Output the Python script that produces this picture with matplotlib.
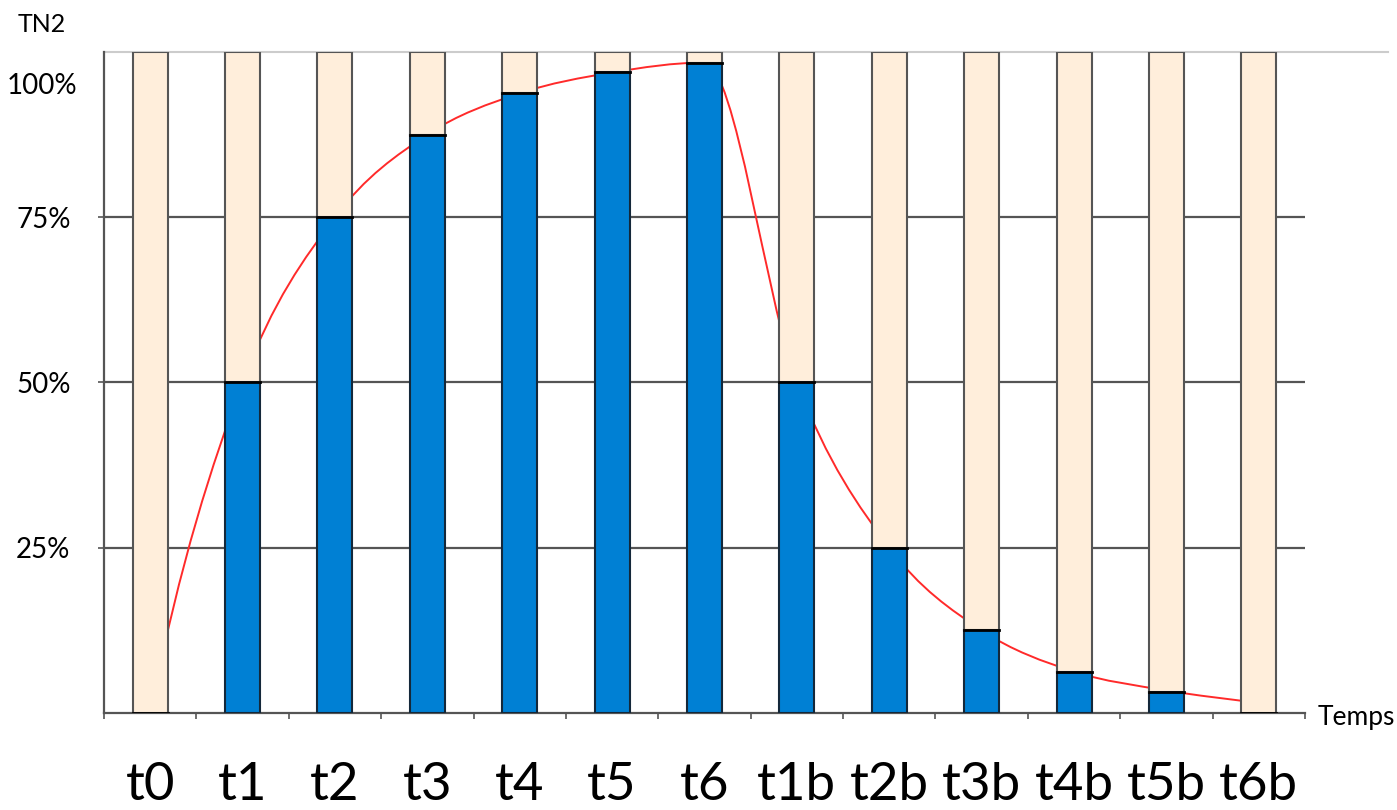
import matplotlib.pyplot as plt
from matplotlib.path import Path
from matplotlib.patches import PathPatch

plt.rcParams['font.family'] = ['Lato', 'DejaVu Sans']

labels = ["t0", "t1", "t2", "t3", "t4", "t5", "t6",
          "t1b", "t2b", "t3b", "t4b", "t5b", "t6b"]
bleu = [0, 50, 75, 87.5, 93.75, 96.9, 98.4, 50, 25, 12.5, 6.25, 3.1, 0]
courbe = [0, 50, 75, 87.5, 93.75, 96.9, 98.4, 50, 25, 12.5, 6.25, 3.4, 1.5]
yticks = [25, 50, 75]
ylabels = ["25%", "50%", "75%"]

fig = plt.figure(figsize=(13.97, 8.10), dpi=100)
ax = fig.add_axes([0.0744, 0.1198, 0.8598, 0.816])

x = list(range(len(labels)))
reste = [100 - v for v in bleu]

# courbe lissee (bezier), tangente nulle aux extremums pour eviter le depassement
n = len(x)
pentes = []
for i in range(n):
    if i == 0:
        m = 1.4 * (courbe[1] - courbe[0])
    elif i == n - 1:
        m = courbe[i] - courbe[i - 1]
    else:
        g = courbe[i] - courbe[i - 1]
        d = courbe[i + 1] - courbe[i]
        m = 0 if g * d <= 0 else (g + d) / 2
    pentes.append(m)

verts = [(x[0], courbe[0])]
codes = [Path.MOVETO]
for i in range(n - 1):
    c1 = (x[i] + 1 / 3, courbe[i] + pentes[i] / 3)
    c2 = (x[i + 1] - 1 / 3, courbe[i + 1] - pentes[i + 1] / 3)
    verts += [c1, c2, (x[i + 1], courbe[i + 1])]
    codes += [Path.CURVE4] * 3
ax.add_patch(PathPatch(Path(verts, codes), fill=False, edgecolor="#ff2a2a",
                       lw=1.4, zorder=2))

ax.bar(x, bleu, width=0.38, color="#0080d4", edgecolor="#14283a", lw=1.5, zorder=3)
ax.bar(x, reste, bottom=bleu, width=0.38, color="#ffeedb", edgecolor="#555555",
       lw=1.5, zorder=3)
for xi, v in zip(x, bleu):
    ax.plot([xi - 0.19, xi + 0.19], [v, v], color="black", lw=2, zorder=4)

ax.set_xlim(-0.5, 12.5)
ax.set_ylim(0, 100)
for y in yticks:
    ax.axhline(y, color="#555555", lw=1.6, zorder=1)
ax.plot([-0.5, 13.4], [100, 100], color="#cccccc", lw=1.5, clip_on=False, zorder=1)

ax.set_yticks(yticks)
ax.set_yticklabels(ylabels, fontsize=20)
ax.set_xticks([i - 0.5 for i in range(len(labels) + 1)])
ax.set_xticklabels([])
ax.tick_params(axis="x", direction="out", length=4, color="#555555", width=1.2)
ax.tick_params(axis="y", direction="out", length=4, color="#555555", width=1.2, pad=20)

for s in ["top", "right"]:
    ax.spines[s].set_visible(False)
ax.spines["left"].set_color("#555555")
ax.spines["left"].set_linewidth(1.6)
ax.spines["bottom"].set_color("#555555")
ax.spines["bottom"].set_linewidth(1.6)

for xi, lab in zip(x, labels):
    ax.text(xi, -10.9, lab, ha="center", va="center", fontsize=38)

fig.text(42 / 1397, 1 - 86 / 810, "100%", ha="center", va="center", fontsize=20)
fig.text(42 / 1397, 1 - 25 / 810, "TN2", ha="center", va="center", fontsize=18)
fig.text(1356 / 1397, 1 - 717 / 810, "Temps", ha="center", va="center", fontsize=19)

fig.savefig("out.png", dpi=100)
